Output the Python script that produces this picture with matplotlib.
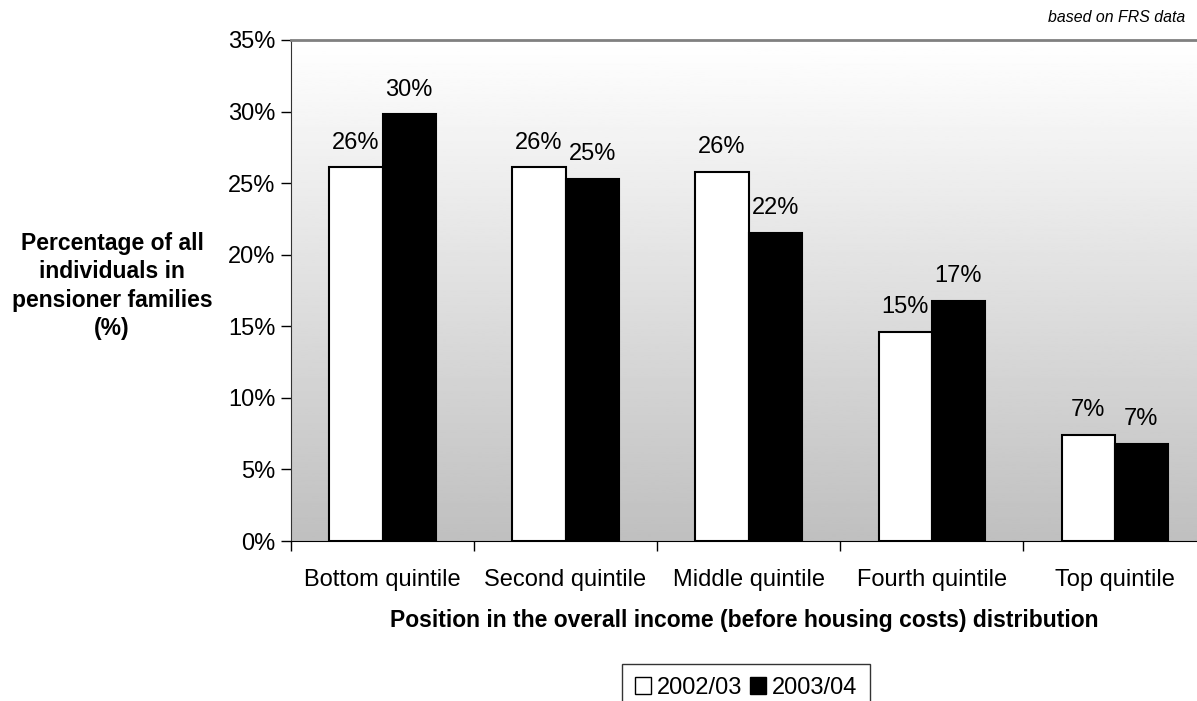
import numpy as np
import matplotlib
matplotlib.use('Agg')
import matplotlib.pyplot as plt
from matplotlib.patches import Patch

plt.rcParams['font.family'] = ['Liberation Sans', 'DejaVu Sans']

categories = ['Bottom quintile', 'Second quintile', 'Middle quintile',
              'Fourth quintile', 'Top quintile']
series_names = ['2002/03', '2003/04']
values_0203 = [26.1, 26.1, 25.8, 14.6, 7.4]
values_0304 = [29.8, 25.3, 21.5, 16.8, 6.8]
y_ticks = [0, 5, 10, 15, 20, 25, 30, 35]

FS = 17
FS_BOLD = 16.5

fig = plt.figure(figsize=(11.97, 7.01), dpi=100)
ax = fig.add_axes([291 / 1197, 1 - 541 / 701, 1 - 291 / 1197, (541 - 40) / 701])

x = np.arange(len(categories))
w = 0.29

# gradient background, white at top to grey at bottom
grad = np.linspace(1.0, 0.75, 256).reshape(-1, 1)
ax.imshow(grad, extent=[-0.5, 4.45, 0, 35], aspect='auto', cmap='gray',
          vmin=0, vmax=1, origin='upper', zorder=0)

b1 = ax.bar(x - w / 2, values_0203, w, color='white', edgecolor='black',
            linewidth=1.5, zorder=2)
b2 = ax.bar(x + w / 2, values_0304, w, color='black', edgecolor='black',
            linewidth=1.5, zorder=2)

for bars, vals in [(b1, values_0203), (b2, values_0304)]:
    for rect, v in zip(bars, vals):
        ax.annotate(f'{round(v)}%', (rect.get_x() + rect.get_width() / 2, v),
                    xytext=(0, 10), textcoords='offset points',
                    ha='center', va='bottom', fontsize=FS)

ax.set_xlim(-0.5, 4.45)
ax.set_ylim(0, 35)
ax.set_yticks(y_ticks)
ax.set_yticklabels([f'{t}%' for t in y_ticks], fontsize=FS)
ax.set_xticks(np.arange(-0.5, 4.5, 1.0))
ax.set_xticklabels([])
ax.set_xticks(x, minor=True)
ax.set_xticklabels(categories, minor=True, fontsize=FS)
ax.tick_params(axis='x', which='minor', length=0, pad=20)
ax.tick_params(axis='x', which='major', direction='out', length=7, width=1)
ax.tick_params(axis='y', direction='out', length=7, width=1, pad=4)

ax.spines['right'].set_visible(False)
ax.spines['top'].set_color('#808080')
ax.spines['top'].set_linewidth(2)
ax.spines['left'].set_color('#333333')
ax.spines['bottom'].set_color('black')

ax.set_xlabel('Position in the overall income (before housing costs) distribution',
              fontsize=FS_BOLD, fontweight='bold', labelpad=13)
fig.text(112 / 1197, 1 - 286 / 701,
         'Percentage of all\nindividuals in\npensioner families\n(%)',
         ha='center', va='center', fontsize=FS_BOLD, fontweight='bold',
         linespacing=1.3)
fig.text(1185 / 1197, 1 - 18 / 701, 'based on FRS data', ha='right',
         va='center', fontsize=11.4, style='italic')

handles = [Patch(facecolor='white', edgecolor='black', label=series_names[0]),
           Patch(facecolor='black', edgecolor='black', label=series_names[1])]
leg = fig.legend(handles=handles, loc='upper center', bbox_to_anchor=(746 / 1197, 1 - 664 / 701),
                 ncol=2, fontsize=FS, frameon=True, fancybox=False,
                 handlelength=0.7, handleheight=0.7, handletextpad=0.25,
                 columnspacing=0.3, borderpad=0.55, borderaxespad=0)
leg.get_frame().set_edgecolor('black')
leg.get_frame().set_linewidth(1)

fig.savefig('out.png', dpi=100)
